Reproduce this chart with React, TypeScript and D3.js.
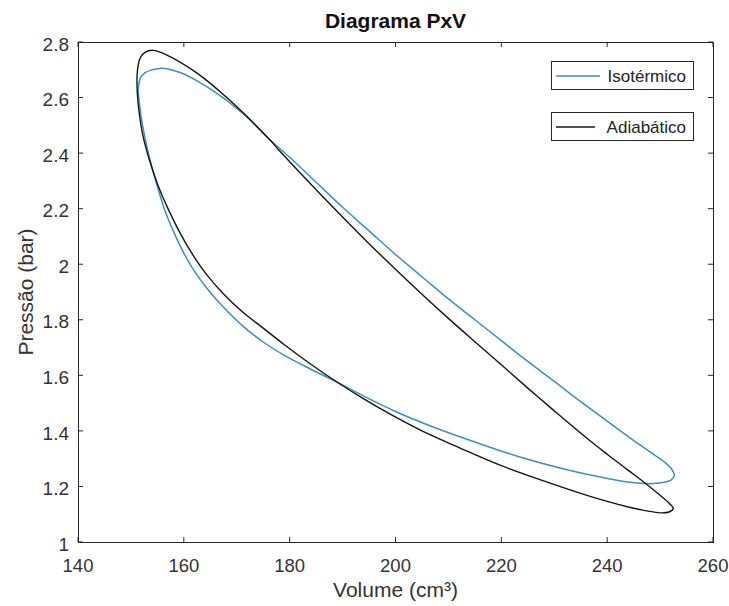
import React from "react";
import * as d3 from "d3";

// Isotérmico loop (V in cm³, P in bar), traced clockwise from the peak
const isoV = [155.5, 157, 159.3, 162.5, 167.4, 171.9, 176.3, 180, 185, 190, 195, 200, 205, 210, 215, 220, 225, 230, 235, 240, 244.9, 248.3, 250.8, 252.2, 252.7, 252.1, 250.5, 248, 244, 239.2, 232, 223.5, 215, 207, 200, 194, 189, 184, 179, 175, 171, 167.5, 164.5, 162, 160, 158, 156.3, 154.7, 153.3, 152.2, 151.6, 151.4, 151.8, 152.7, 154];
const isoP = [2.705, 2.703, 2.69, 2.66, 2.6, 2.53, 2.447, 2.385, 2.295, 2.205, 2.12, 2.035, 1.955, 1.875, 1.8, 1.725, 1.65, 1.578, 1.505, 1.435, 1.367, 1.322, 1.288, 1.262, 1.24, 1.224, 1.214, 1.21, 1.216, 1.232, 1.262, 1.306, 1.36, 1.415, 1.47, 1.525, 1.575, 1.622, 1.672, 1.72, 1.78, 1.845, 1.91, 1.975, 2.04, 2.12, 2.2, 2.3, 2.4, 2.5, 2.58, 2.635, 2.67, 2.69, 2.7];

// Adiabático loop
const adiV = [154.2, 156.8, 162.5, 168.7, 176.3, 178, 185, 190, 195, 200, 205, 210, 215, 220, 225, 230, 236, 240, 244, 247.5, 250, 251.8, 252.5, 251.7, 250, 247.5, 244, 240, 235, 228, 220, 212, 205, 199, 194, 189, 184, 179, 175, 171, 167.5, 164.5, 162, 159.5, 157, 155, 153.5, 152.3, 151.6, 151.2, 151.2, 151.7, 152.6];
const adiP = [2.77, 2.753, 2.688, 2.59, 2.447, 2.41, 2.268, 2.17, 2.074, 1.982, 1.892, 1.805, 1.721, 1.638, 1.554, 1.472, 1.376, 1.316, 1.258, 1.207, 1.168, 1.138, 1.12, 1.108, 1.105, 1.112, 1.126, 1.146, 1.175, 1.22, 1.275, 1.34, 1.4, 1.46, 1.515, 1.575, 1.64, 1.71, 1.77, 1.83, 1.893, 1.958, 2.025, 2.105, 2.2, 2.29, 2.375, 2.46, 2.54, 2.62, 2.69, 2.74, 2.762];

const xTicks = [140, 160, 180, 200, 220, 240, 260];
const yTicks = [1, 1.2, 1.4, 1.6, 1.8, 2, 2.2, 2.4, 2.6, 2.8];
const legendLabels = ["Isotérmico", "Adiabático"];

const W = 729, H = 606;
const L = 78, R = 713, T = 42, B = 542;
const FONT = "'Liberation Sans', Arial, Helvetica, sans-serif";
const AX = "#262626";
const BLUE = "#3a92ba";
const BLACK = "#151515";

export default function App() {
  const x = d3.scaleLinear().domain([140, 260]).range([L, R]);
  const y = d3.scaleLinear().domain([1, 2.8]).range([B, T]);
  const line = d3
    .line<[number, number]>()
    .x((d) => x(d[0]))
    .y((d) => y(d[1]))
    .curve(d3.curveCatmullRomClosed.alpha(0.5));
  const iso = isoV.map((v, i) => [v, isoP[i]] as [number, number]);
  const adi = adiV.map((v, i) => [v, adiP[i]] as [number, number]);
  const tk = 5;

  const legends = [
    { label: legendLabels[0], color: BLUE, top: 61, lx1: 556, lx2: 600 },
    { label: legendLabels[1], color: BLACK, top: 112, lx1: 556, lx2: 595 },
  ];

  return (
    <svg
      width={W}
      height={H}
      style={{ position: "absolute", left: 0, top: 0, background: "#fff" }}
      fontFamily={FONT}
    >
      <rect x={0} y={0} width={W} height={H} fill="#fff" />
      <rect x={L} y={T} width={R - L} height={B - T} fill="#fff" />
      <path d={line(iso) || ""} fill="none" stroke={BLUE} strokeWidth={1.5} />
      <path d={line(adi) || ""} fill="none" stroke={BLACK} strokeWidth={1.4} />
      {/* frame */}
      <rect x={L + 0.5} y={T + 0.5} width={R - L} height={B - T} fill="none" stroke={AX} strokeWidth={1} />
      {xTicks.map((t) => (
        <g key={"x" + t}>
          <line x1={x(t)} x2={x(t)} y1={B} y2={B - tk} stroke={AX} />
          <line x1={x(t)} x2={x(t)} y1={T} y2={T + tk} stroke={AX} />
          <text x={x(t)} y={572} textAnchor="middle" fontSize={18.5} fill="#333">
            {t}
          </text>
        </g>
      ))}
      {yTicks.map((t) => (
        <g key={"y" + t}>
          <line x1={L} x2={L + tk} y1={y(t)} y2={y(t)} stroke={AX} />
          <line x1={R} x2={R - tk} y1={y(t)} y2={y(t)} stroke={AX} />
          <text x={69} y={y(t) + 2} dy="0.35em" textAnchor="end" fontSize={19} fill="#333">
            {d3.format("")(t)}
          </text>
        </g>
      ))}
      <text x={(L + R) / 2} y={28} textAnchor="middle" fontSize={21} fontWeight="bold" fill="#111">
        Diagrama PxV
      </text>
      <text x={(L + R) / 2} y={597} textAnchor="middle" fontSize={21} fill="#333">
        Volume (cm³)
      </text>
      <text
        transform={`translate(33,${(T + B) / 2}) rotate(-90)`}
        textAnchor="middle"
        fontSize={21}
        fill="#333"
      >
        Pressão (bar)
      </text>
      {legends.map((lg) => (
        <g key={lg.label}>
          <rect x={551.5} y={lg.top + 0.5} width={142} height={28} fill="#fff" stroke={AX} strokeWidth={1} />
          <line x1={lg.lx1} x2={lg.lx2} y1={lg.top + 15} y2={lg.top + 15} stroke={lg.color} strokeWidth={1.5} />
          <text x={686} y={lg.top + 15} dy="0.35em" textAnchor="end" fontSize={17} fill="#222">
            {lg.label}
          </text>
        </g>
      ))}
    </svg>
  );
}
